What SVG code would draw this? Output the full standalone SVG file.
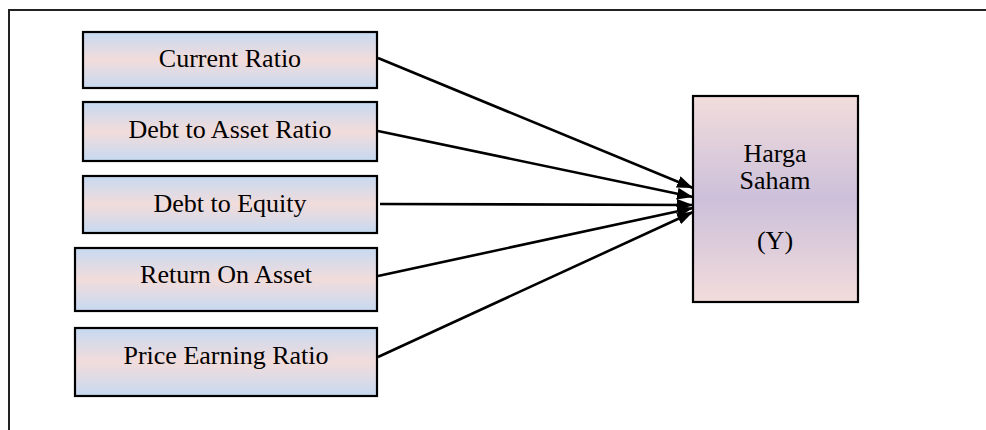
<svg xmlns="http://www.w3.org/2000/svg" width="986" height="430" viewBox="0 0 986 430">
<style>
.box{stroke:#000;stroke-width:2.2}
.sm{fill:url(#gSmall)}
.big{fill:url(#gBig)}
.t{font-family:"Liberation Serif","Times New Roman",serif;font-size:26px;fill:#000;text-anchor:middle}
.c{stroke:#000;stroke-width:2.6;fill:none;marker-end:url(#ah)}
</style>
<defs>
<linearGradient id="gSmall" x1="0" y1="0" x2="0" y2="1">
<stop offset="0" stop-color="#c6d9f1"/>
<stop offset="0.5" stop-color="#f2dcdb"/>
<stop offset="1" stop-color="#c6d9f1"/>
</linearGradient>
<linearGradient id="gBig" x1="0" y1="0" x2="0" y2="1">
<stop offset="0" stop-color="#f2dcdb"/>
<stop offset="0.5" stop-color="#ccc0da"/>
<stop offset="1" stop-color="#f2dcdb"/>
</linearGradient>
<marker id="ah" markerUnits="userSpaceOnUse" markerWidth="18" markerHeight="14" refX="16" refY="6" orient="auto">
<path d="M0,0 L16,6 L0,12 Z" fill="#000"/>
</marker>
</defs>
<rect x="9" y="10" width="990" height="440" fill="none" stroke="#222" stroke-width="2"/>
<g id="connectors">
<line class="c" x1="378" y1="58" x2="693" y2="188"/>
<line class="c" x1="378" y1="131" x2="693" y2="197"/>
<line class="c" x1="380" y1="204" x2="693" y2="205"/>
<line class="c" x1="378" y1="276" x2="693" y2="208"/>
<line class="c" x1="378" y1="357" x2="693" y2="212"/>
</g>
<g id="n1"><rect class="box sm" x="83" y="32" width="294" height="56"/><text class="t" x="230" y="67">Current Ratio</text></g>
<g id="n2"><rect class="box sm" x="83" y="102" width="294" height="59"/><text class="t" x="230" y="138">Debt to Asset Ratio</text></g>
<g id="n3"><rect class="box sm" x="83" y="176" width="294" height="57"/><text class="t" x="230" y="212">Debt to Equity</text></g>
<g id="n4"><rect class="box sm" x="75" y="248" width="302" height="63"/><text class="t" x="226" y="283">Return On Asset</text></g>
<g id="n5"><rect class="box sm" x="75" y="328" width="302" height="68"/><text class="t" x="226" y="364">Price Earning Ratio</text></g>
<g id="y"><rect class="box big" x="693" y="96" width="165" height="206"/>
<text class="t" x="775" y="162">Harga</text>
<text class="t" x="775" y="189">Saham</text>
<text class="t" x="775" y="249">(Y)</text></g>
</svg>
